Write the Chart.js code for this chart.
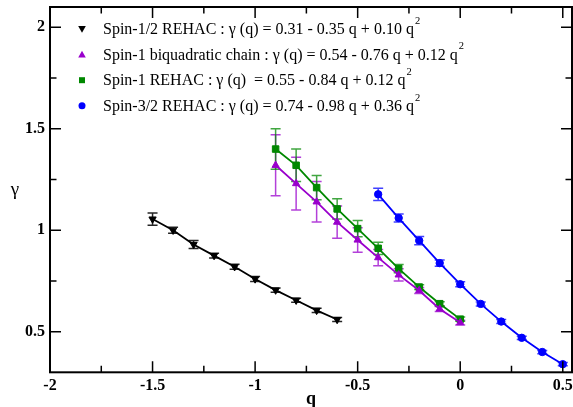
<!DOCTYPE html>
<html>
<head>
<meta charset="utf-8">
<script src="https://cdn.jsdelivr.net/npm/chart.js@4.4.1/dist/chart.umd.min.js"></script>
<style>
  html, body { margin: 0; padding: 0; background: #fff; }
  #wrap { width: 573px; height: 407px; }
</style>
</head>
<body>
<div id="wrap"><canvas id="chart" width="573" height="407"></canvas></div>
<script>
// values
const qHalf = [-1.5, -1.4, -1.3, -1.2, -1.1, -1.0, -0.9, -0.8, -0.7, -0.6];
const gammaHalf = [1.055, 1.0, 0.93, 0.875, 0.82, 0.76, 0.705, 0.655, 0.605, 0.56];
const errHalf = [0.03, 0.015, 0.02, 0.012, 0.012, 0.012, 0.01, 0.01, 0.01, 0.01];

const qBiq = [-0.9, -0.8, -0.7, -0.6, -0.5, -0.4, -0.3, -0.2, -0.1, 0.0];
const gammaBiq = [1.32, 1.23, 1.14, 1.04, 0.952, 0.865, 0.78, 0.703, 0.612, 0.545];
const errBiq = [0.15, 0.13, 0.10, 0.08, 0.06, 0.04, 0.03, 0.015, 0.012, 0.012];

const qOne = [-0.9, -0.8, -0.7, -0.6, -0.5, -0.4, -0.3, -0.2, -0.1, 0.0];
const gammaOne = [1.40, 1.32, 1.21, 1.105, 1.008, 0.911, 0.811, 0.72, 0.638, 0.562];
const errOne = [0.10, 0.08, 0.06, 0.05, 0.04, 0.03, 0.02, 0.012, 0.01, 0.01];

const qThreeHalf = [-0.4, -0.3, -0.2, -0.1, 0.0, 0.1, 0.2, 0.3, 0.4, 0.5];
const gammaThreeHalf = [1.177, 1.06, 0.949, 0.838, 0.734, 0.637, 0.55, 0.47, 0.40, 0.34];
const errThreeHalf = [0.03, 0.02, 0.02, 0.015, 0.012, 0.01, 0.01, 0.008, 0.008, 0.008];

const legendLabels = [
  'Spin-1/2 REHAC : \u03b3 (q) = 0.31 - 0.35 q + 0.10 q',
  'Spin-1 biquadratic chain : \u03b3 (q) = 0.54 - 0.76 q + 0.12 q',
  'Spin-1 REHAC : \u03b3 (q)  = 0.55 - 0.84 q + 0.12 q',
  'Spin-3/2 REHAC : \u03b3 (q) = 0.74 - 0.98 q + 0.36 q'
];

const xMajorTicks = [-2, -1.5, -1, -0.5, 0, 0.5];
const xMinorTicks = [-1.75, -1.25, -0.75, -0.25, 0.25];
const yMajorTicks = [0.5, 1, 1.5, 2];
const yMinorTicks = [0.75, 1.25, 1.75];

const SERIF = '"Liberation Serif", "DejaVu Serif", serif';

function points(xs, ys) {
  return xs.map((x, i) => ({ x, y: ys[i] }));
}

function series(label, xs, ys, errs, color, barColor, style, radius, rotation) {
  return {
    label,
    data: points(xs, ys),
    errors: errs,
    barColor,
    borderColor: color,
    backgroundColor: color,
    borderWidth: 1.8,
    pointStyle: style,
    pointRadius: radius,
    pointRotation: rotation || 0,
    pointBorderWidth: 1,
    showLine: true,
    tension: 0
  };
}

// error bars, drawn under the lines and markers
const errorBars = {
  id: 'errorBars',
  beforeDatasetsDraw(chart) {
    const ctx = chart.ctx;
    const yScale = chart.scales.y;
    ctx.save();
    chart.data.datasets.forEach((ds, di) => {
      const meta = chart.getDatasetMeta(di);
      ctx.strokeStyle = ds.barColor;
      ctx.lineWidth = 1.5;
      meta.data.forEach((pt, i) => {
        const v = ds.data[i].y;
        const e = ds.errors[i];
        const top = yScale.getPixelForValue(v + e);
        const bot = yScale.getPixelForValue(v - e);
        ctx.beginPath();
        ctx.moveTo(pt.x, top); ctx.lineTo(pt.x, bot);
        ctx.moveTo(pt.x - 5, top); ctx.lineTo(pt.x + 5, top);
        ctx.moveTo(pt.x - 5, bot); ctx.lineTo(pt.x + 5, bot);
        ctx.stroke();
      });
    });
    ctx.restore();
  }
};

// frame with inward ticks on all four sides, upright gamma, legend
const frame = {
  id: 'frame',
  afterDraw(chart) {
    const ctx = chart.ctx;
    const a = chart.chartArea;
    const xs = chart.scales.x, ys = chart.scales.y;
    ctx.save();
    ctx.strokeStyle = '#000';
    ctx.lineWidth = 1.5;
    ctx.beginPath();
    const tickX = (v, len) => {
      const px = xs.getPixelForValue(v);
      ctx.moveTo(px, a.bottom); ctx.lineTo(px, a.bottom - len);
      ctx.moveTo(px, a.top); ctx.lineTo(px, a.top + len);
    };
    const tickY = (v, len) => {
      const py = ys.getPixelForValue(v);
      ctx.moveTo(a.left, py); ctx.lineTo(a.left + len, py);
      ctx.moveTo(a.right, py); ctx.lineTo(a.right - len, py);
    };
    xMajorTicks.forEach(v => tickX(v, 11));
    xMinorTicks.forEach(v => tickX(v, 6.5));
    yMajorTicks.forEach(v => tickY(v, 11));
    yMinorTicks.forEach(v => tickY(v, 6.5));
    ctx.stroke();
    ctx.lineWidth = 2;
    ctx.strokeRect(a.left, a.top, a.right - a.left, a.bottom - a.top);

    ctx.fillStyle = '#000';
    ctx.font = '19px ' + SERIF;
    ctx.textAlign = 'center';
    ctx.textBaseline = 'middle';
    ctx.fillText('\u03b3', 15, (a.top + a.bottom) / 2);

    // legend
    const sx = 82, tx = 103;
    ctx.textAlign = 'left';
    ctx.textBaseline = 'middle';
    chart.data.datasets.forEach((ds, i) => {
      const y = 29 + i * 25.6;
      ctx.fillStyle = ds.backgroundColor;
      ctx.beginPath();
      if (ds.pointStyle === 'triangle' && ds.pointRotation === 180) {
        ctx.moveTo(sx - 3.8, y - 3); ctx.lineTo(sx + 3.8, y - 3); ctx.lineTo(sx, y + 3.8);
      } else if (ds.pointStyle === 'triangle') {
        ctx.moveTo(sx - 3.8, y + 3); ctx.lineTo(sx + 3.8, y + 3); ctx.lineTo(sx, y - 3.8);
      } else if (ds.pointStyle === 'rect') {
        ctx.rect(sx - 3, y - 3, 6, 6);
      } else {
        ctx.arc(sx, y, 3.5, 0, Math.PI * 2);
      }
      ctx.fill();
      ctx.fillStyle = '#000';
      ctx.font = '16px ' + SERIF;
      const label = legendLabels[i];
      ctx.fillText(label, tx, y + 1);
      const w = ctx.measureText(label).width;
      ctx.font = '10.5px ' + SERIF;
      ctx.fillText('2', tx + w + 1, y - 8);
    });
    ctx.restore();
  }
};

new Chart(document.getElementById('chart'), {
  type: 'scatter',
  data: {
    datasets: [
      series(legendLabels[0], qHalf, gammaHalf, errHalf, '#000000', 'rgba(0,0,0,0.85)', 'triangle', 4.2, 180),
      series(legendLabels[1], qBiq, gammaBiq, errBiq, '#9900cc', 'rgba(153,0,204,0.75)', 'triangle', 4.2, 0),
      series(legendLabels[2], qOne, gammaOne, errOne, '#008800', 'rgba(0,136,0,0.75)', 'rect', 4.6, 0),
      series(legendLabels[3], qThreeHalf, gammaThreeHalf, errThreeHalf, '#0000ff', 'rgba(0,0,255,0.75)', 'circle', 3.7, 0)
    ]
  },
  plugins: [errorBars, frame],
  options: {
    responsive: false,
    animation: false,
    // no auto padding: the frame should run to the right edge like the original
    layout: { autoPadding: false, padding: { top: 7, right: 1, left: 0, bottom: 0 } },
    plugins: {
      legend: { display: false },
      tooltip: { enabled: false }
    },
    scales: {
      x: {
        type: 'linear',
        min: -2,
        max: 0.545,
        afterBuildTicks(scale) {
          scale.ticks = xMajorTicks.map(v => ({ value: v }));
        },
        afterFit(scale) {
          scale.height = 34.7;
          scale.paddingLeft = 0;
          scale.paddingRight = 0;
        },
        grid: { display: false, drawTicks: false },
        border: { display: false },
        ticks: {
          autoSkip: false,
          maxRotation: 0,
          padding: 4,
          color: '#000',
          font: { family: SERIF, size: 16, weight: 'bold' },
          callback: v => String(v)
        },
        title: {
          display: true,
          text: 'q',
          color: '#000',
          padding: { top: 0, bottom: -3 },
          font: { family: SERIF, size: 18, weight: 'bold' }
        }
      },
      y: {
        type: 'linear',
        min: 0.3,
        max: 2.1,
        afterBuildTicks(scale) {
          scale.ticks = yMajorTicks.map(v => ({ value: v }));
        },
        afterFit(scale) {
          scale.width = 50;
          scale.paddingTop = 0;
          scale.paddingBottom = 0;
        },
        grid: { display: false, drawTicks: false },
        border: { display: false },
        ticks: {
          autoSkip: false,
          padding: 5,
          color: '#000',
          font: { family: SERIF, size: 16, weight: 'bold' },
          callback: v => String(v)
        }
      }
    }
  }
});
</script>
</body>
</html>
